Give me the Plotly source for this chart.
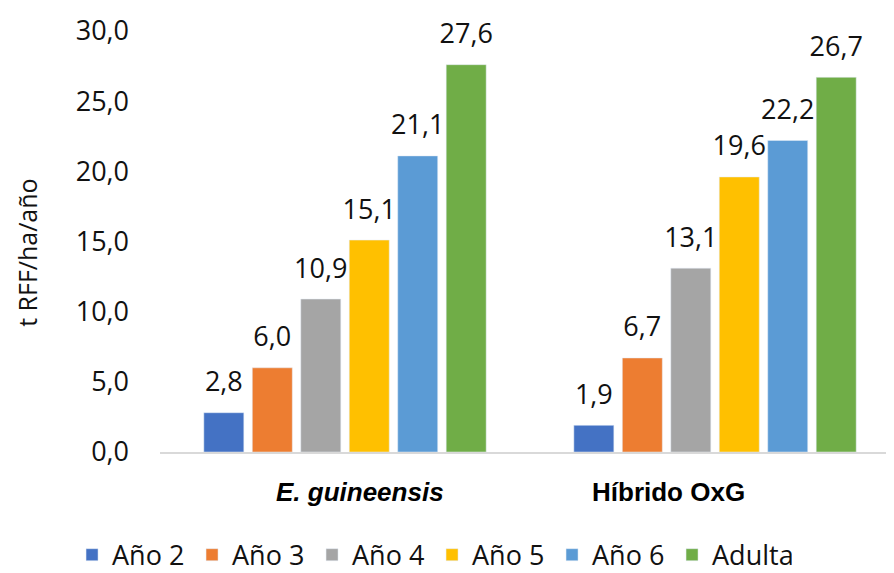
import plotly.graph_objects as go

categories = ["E. guineensis", "Híbrido OxG"]
category_labels = ["<b><i>E. guineensis</i></b>", "<b>Híbrido OxG</b>"]
series_names = ["Año 2", "Año 3", "Año 4", "Año 5", "Año 6", "Adulta"]
ano2 = [2.8, 1.9]
ano3 = [6.0, 6.7]
ano4 = [10.9, 13.1]
ano5 = [15.1, 19.6]
ano6 = [21.1, 22.2]
adulta = [27.6, 26.7]
colors = ["#4472C4", "#ED7D31", "#A5A5A5", "#FFC000", "#5B9BD5", "#70AD47"]
y_title = "t RFF/ha/año"

values = [ano2, ano3, ano4, ano5, ano6, adulta]

FONT = "Open Sans, Lato, sans-serif"
TXT = "#111111"
FS = 27

fig = go.Figure()
for i, (name, vals, col) in enumerate(zip(series_names, values, colors)):
    fig.add_trace(go.Bar(
        x=categories, y=vals, name=name, marker_color=col,
        offsetgroup=str(i), hoverinfo="skip",
    ))
for i, vals in enumerate(values):
    fig.add_trace(go.Scatter(
        x=categories, y=vals, mode="markers+text", offsetgroup=str(i),
        marker=dict(size=22, opacity=0), showlegend=False, hoverinfo="skip",
        texttemplate="%{y:.1f}", textposition="top center", cliponaxis=False,
        textfont=dict(family=FONT, size=FS, color=TXT),
    ))

# category labels (placed slightly off-centre as in the reference)
label_shift = [15, -47]
for cat, lab, dx in zip(categories, category_labels, label_shift):
    fig.add_annotation(text=lab, x=cat, xref="x", yref="paper", y=-0.095,
                       xanchor="center", yanchor="middle", xshift=dx, showarrow=False,
                       font=dict(family="Liberation Sans, Arial, sans-serif", size=26,
                                 color="#000000"))

fig.add_annotation(text=y_title, xref="paper", yref="paper", x=-0.1815, y=0.473,
                   xanchor="center", yanchor="middle", textangle=-90, showarrow=False,
                   font=dict(family=FONT, size=25, color=TXT))

fig.update_layout(
    width=886, height=565,
    separators=",.",
    barmode="group", bargap=0.214, bargroupgap=0.175,
    scattermode="group", scattergap=0.214,
    plot_bgcolor="white", paper_bgcolor="white",
    margin=dict(l=152, r=1, t=23, b=121, autoexpand=False),
    font=dict(family=FONT, size=FS, color=TXT),
    showlegend=True,
    legend=dict(orientation="h", x=-0.12, xanchor="left", y=-0.245, yanchor="middle",
                font=dict(size=FS, color=TXT), itemwidth=30, traceorder="normal",
                entrywidth=75, entrywidthmode="pixels"),
    yaxis=dict(range=[0, 30], dtick=5, tickformat=".1f", showgrid=False, zeroline=False,
               showline=False, ticks="", ticklabelstandoff=30, automargin=False,
               tickfont=dict(family=FONT, size=FS, color=TXT)),
    xaxis=dict(range=[-0.5, 1.481], showline=True, linecolor="#D9D9D9", linewidth=2, ticks="",
               automargin=False, showticklabels=False),
)

fig.write_html("out.html")
